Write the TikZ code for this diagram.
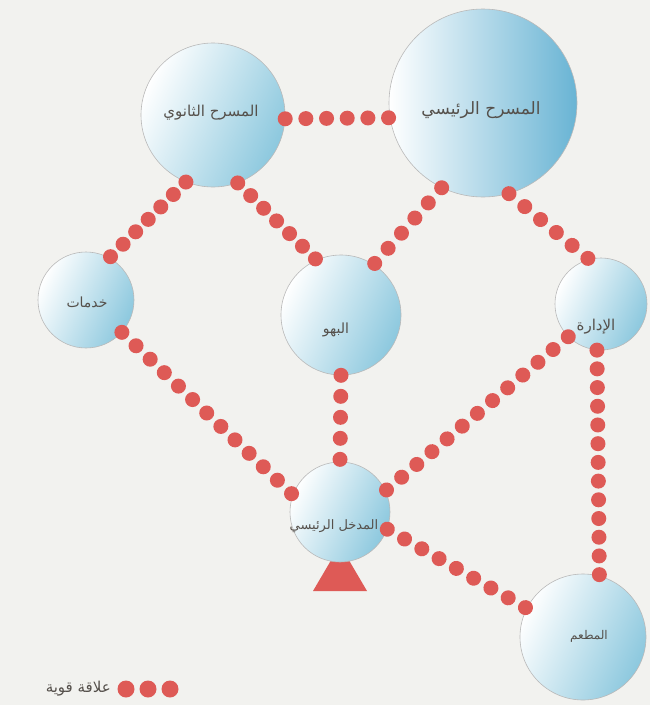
\documentclass[tikz,border=0pt]{standalone}
\usepackage{fontspec}
\newfontfamily\arabicfont[Script=Arabic]{DejaVu Sans}
\TeXXeTstate=1
\usetikzlibrary{calc}
\definecolor{dotred}{RGB}{222,90,86}
\definecolor{bluish}{RGB}{140,200,222}
\definecolor{bluishdark}{RGB}{105,180,212}
\definecolor{bgc}{RGB}{242,242,239}
\definecolor{txt}{RGB}{85,80,75}
\newcommand\artxt[1]{{\arabicfont\beginR #1\endR}}
\begin{document}
\begin{tikzpicture}[x=1pt,y=-1pt,
  bubble/.style={circle, draw=gray!55, line width=0.6pt, inner sep=0pt,
    left color=white, right color=bluish, shading angle=65},
  lbl/.style={text=txt, inner sep=1pt, font=\fontsize{#1}{#1}\selectfont},
  dotline/.style={draw=dotred, line width=15pt, line cap=round, dash pattern=on 0.01pt off #1pt},
  legdot/.style={circle, fill=dotred, minimum size=17pt, inner sep=0pt}]
\path[use as bounding box, fill=bgc] (0,0) rectangle (650,705);
% entrance marker
\coordinate (tri) at (340,545);
\fill[dotred] (tri) -- ++(27,46) -- ++(-54,0) -- cycle;
% spaces
\node[bubble, minimum size=144pt] (sec) at (213,115) {};
\node[bubble, minimum size=188pt, right color=bluishdark] (main) at (483,103) {};
\node[bubble, minimum size=96pt] (srv) at (86,300) {};
\node[bubble, minimum size=120pt] (foy) at (341,315) {};
\node[bubble, minimum size=92pt] (adm) at (601,304) {};
\node[bubble, minimum size=100pt] (ent) at (340,512) {};
\node[bubble, minimum size=126pt] (rest) at (583,637) {};
% relations
\draw[dotline=20.66] (sec.357) -- (main.189);
\draw[dotline=17.67] (sec.248) -- (srv.61);
\draw[dotline=18.1] (sec.290) -- (foy.114);
\draw[dotline=20.2] (main.244) -- (foy.57);
\draw[dotline=20.4] (main.286) -- (adm.105);
\draw[dotline=19.5] (srv.318) -- (ent.160);
\draw[dotline=21.0] (foy.south) -- (ent.north);
\draw[dotline=19.8] (adm.225) -- (ent.25);
\draw[dotline=18.7] (adm.265) -- (rest.75);
\draw[dotline=19.85] (ent.340) -- (rest.153);
% labels
\node[lbl=15] (secL) at (211,113) {\artxt{المسرح الثانوي}};
\node[lbl=17] (mainL) at (481,110) {\artxt{المسرح الرئيسي}};
\node[lbl=14] (srvL) at (87,302) {\artxt{خدمات}};
\node[lbl=14] (foyL) at (336,330) {\artxt{البهو}};
\node[lbl=15] (admL) at (596,327) {\artxt{الإدارة}};
\node[lbl=13] (entL) at (334,526) {\artxt{المدخل الرئيسي}};
\node[lbl=12] (restL) at (589,636) {\artxt{المطعم}};
% legend
\node[legdot] (l1) at (126,689) {};
\node[legdot] (l2) at (148,689) {};
\node[legdot] (l3) at (170,689) {};
\node[lbl=15, anchor=east] (legL) at (112,689) {\artxt{علاقة قوية}};
\end{tikzpicture}
\end{document}
